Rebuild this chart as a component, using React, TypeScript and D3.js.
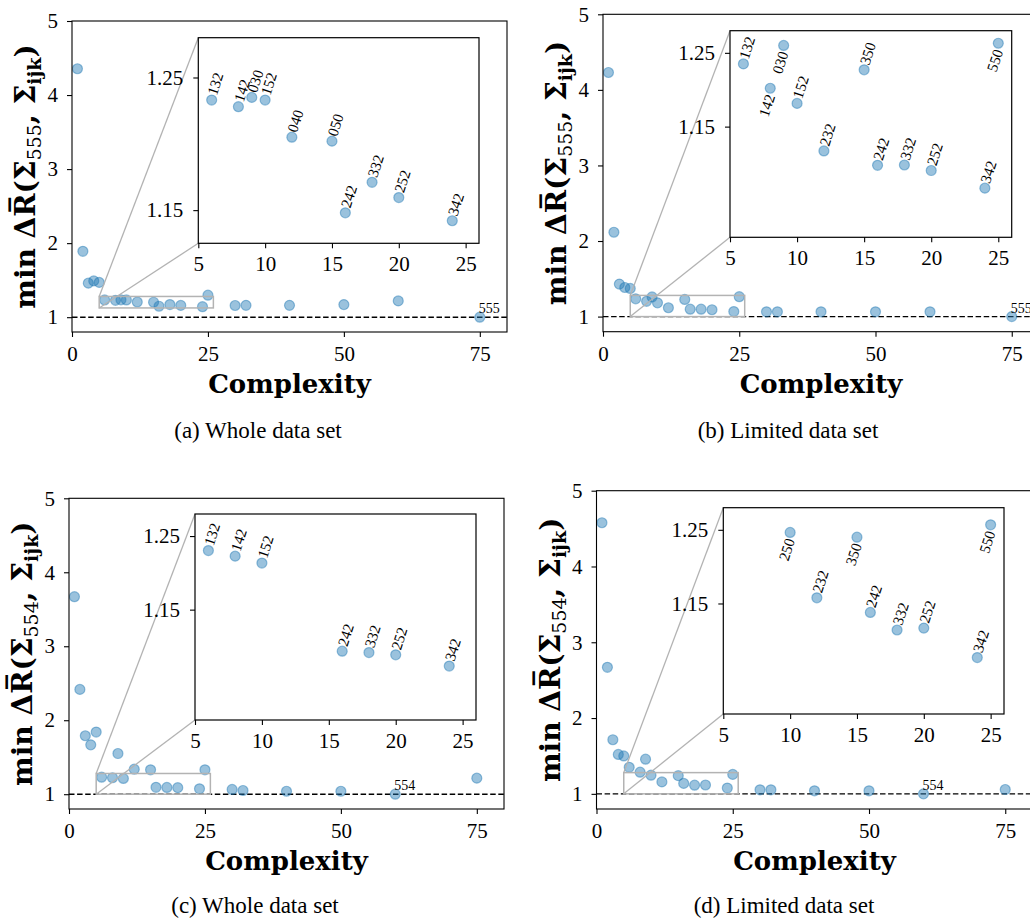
import React, { useRef, useEffect } from "react";
import * as d3 from "d3";

// complexity of each best structure (same set in every panel)
const complexity = [1, 2, 3, 4, 5, 6, 8, 9, 10, 12, 15, 16, 18, 20, 24, 25, 30, 32, 40, 50, 60, 75];

// min delta R values
const valuesA = [4.355, 1.89, 1.46, 1.49, 1.47, 1.233, 1.228, 1.235, 1.233, 1.205, 1.202, 1.148, 1.171, 1.1595, 1.142, 1.297, 1.158, 1.16, 1.16, 1.17, 1.22, 1.0];
const valuesB = [4.23, 2.116, 1.43, 1.385, 1.372, 1.235, 1.202, 1.26, 1.1815, 1.117, 1.227, 1.0976, 1.098, 1.0905, 1.0666, 1.263, 1.063, 1.063, 1.063, 1.063, 1.063, 1.0];
const valuesC = [3.67, 2.417, 1.79, 1.667, 1.84, 1.2303, 1.2227, 1.55, 1.2133, 1.338, 1.33, 1.0935, 1.0917, 1.0886, 1.0733, 1.33, 1.064, 1.05, 1.04, 1.04, 1.0, 1.217];
const valuesD = [4.577, 2.67, 1.714, 1.52, 1.5, 1.35, 1.286, 1.457, 1.2464, 1.1577, 1.24, 1.1378, 1.114, 1.1166, 1.0766, 1.2568, 1.053, 1.053, 1.04, 1.04, 1.0, 1.057];

// structure tags shown in the insets ("" = no tag)
const tagsA = ["", "", "", "", "", "132", "142", "030", "152", "040", "050", "242", "332", "252", "342", "", "", "", "", "", "", ""];
const tagsB = ["", "", "", "", "", "132", "142", "030", "152", "232", "350", "242", "332", "252", "342", "550", "", "", "", "", "", ""];
const tagsC = ["", "", "", "", "", "132", "142", "", "152", "", "", "242", "332", "252", "342", "", "", "", "", "", "", ""];
const tagsD = ["", "", "", "", "", "", "", "", "250", "232", "350", "242", "332", "252", "342", "550", "", "", "", "", "", ""];

// tags written below their point
const belowB = ["142", "030", "550"];
const belowD = ["250", "350", "550"];

const mainTicksX = [0, 25, 50, 75];
const mainTicksY = [1, 2, 3, 4, 5];
const insetTicksX = [5, 10, 15, 20, 25];
const insetTicksY = [1.15, 1.25];

const panels = [
  {
    id: "a", values: valuesA, tags: tagsA, below: [], sigma: "555", refX: 75, refTag: "555",
    insetY: [1.125, 1.28], caption: "(a)", captionText: "Whole data set",
    box: { left: 72, right: 507, top: 21, bottom: 332 },
    inset: { left: 198.3, right: 479, top: 37.7, bottom: 243.3 },
    capX: 258, capY: 438,
  },
  {
    id: "b", values: valuesB, tags: tagsB, below: belowB, sigma: "555", refX: 75, refTag: "555",
    insetY: [1.0, 1.28], caption: "(b)", captionText: "Limited data set",
    box: { left: 603, right: 1039, top: 14.3, bottom: 331.7 },
    inset: { left: 730, right: 1011.7, top: 30.7, bottom: 237.3 },
    capX: 788, capY: 438,
  },
  {
    id: "c", values: valuesC, tags: tagsC, below: [], sigma: "554", refX: 60, refTag: "554",
    insetY: [1.0, 1.28], caption: "(c)", captionText: "Whole data set",
    box: { left: 69, right: 504, top: 498.3, bottom: 809 },
    inset: { left: 195, right: 476, top: 514, bottom: 720 },
    capX: 255, capY: 913,
  },
  {
    id: "d", values: valuesD, tags: tagsD, below: belowD, sigma: "554", refX: 60, refTag: "554",
    insetY: [1.0, 1.28], caption: "(d)", captionText: "Limited data set",
    box: { left: 596.5, right: 1032.5, top: 490.7, bottom: 809 },
    inset: { left: 723.3, right: 1004, top: 507.7, bottom: 714 },
    capX: 784, capY: 913,
  },
];

const BLUE = "#1f77b4";
const TICK_FONT = "'Liberation Serif', serif";
const BOLD_FONT = "'DejaVu Serif', serif";

function styleAxis(sel, size) {
  sel.select(".domain").remove();
  sel.selectAll(".tick line").attr("stroke", "#000").attr("stroke-width", 1.1);
  sel.selectAll(".tick text")
    .attr("fill", "#000")
    .style("font-family", TICK_FONT)
    .style("font-size", `${size}px`);
}

function drawPanel(root, p) {
  const pts = complexity.map((c, i) => ({ c, v: p.values[i], tag: p.tags[i] }));
  const b = p.box;
  const x = d3.scaleLinear().domain([0, 80]).range([b.left, b.right]);
  const y = d3.scaleLinear().domain([0.8, 5]).range([b.bottom, b.top]);

  const g = root.append("g");
  const clipId = `clip-main-${p.id}`;
  g.append("clipPath").attr("id", clipId).append("rect")
    .attr("x", b.left).attr("y", b.top)
    .attr("width", b.right - b.left).attr("height", b.bottom - b.top);

  const plot = g.append("g").attr("clip-path", `url(#${clipId})`);
  plot.append("line")
    .attr("x1", x(0)).attr("x2", x(80))
    .attr("y1", y(1)).attr("y2", y(1))
    .attr("stroke", "#000").attr("stroke-width", 1.4)
    .attr("stroke-dasharray", "5.5,2.6");

  plot.selectAll("circle").data(pts).join("circle")
    .attr("cx", (d) => x(d.c)).attr("cy", (d) => y(d.v)).attr("r", 5)
    .attr("fill", BLUE).attr("fill-opacity", 0.45)
    .attr("stroke", BLUE).attr("stroke-opacity", 0.45).attr("stroke-width", 1.2);

  const ref = pts.find((d) => d.c === p.refX);
  plot.append("text")
    .attr("x", x(ref.c) - 1).attr("y", y(ref.v) - 4)
    .style("font-family", TICK_FONT).style("font-size", "14px")
    .text(p.refTag);

  // zoom marker and connectors
  const [y0, y1] = p.insetY;
  const gray = "#b3b3b3";
  g.append("rect")
    .attr("x", x(5)).attr("y", y(y1))
    .attr("width", x(26) - x(5)).attr("height", y(y0) - y(y1))
    .attr("fill", "none").attr("stroke", gray).attr("stroke-width", 1.5);
  g.append("line")
    .attr("x1", x(5)).attr("y1", y(y1)).attr("x2", p.inset.left).attr("y2", p.inset.top)
    .attr("stroke", gray).attr("stroke-width", 1.3);
  g.append("line")
    .attr("x1", x(5)).attr("y1", y(y0)).attr("x2", p.inset.left).attr("y2", p.inset.bottom)
    .attr("stroke", gray).attr("stroke-width", 1.3);

  // main frame + axes
  g.append("rect")
    .attr("x", b.left).attr("y", b.top)
    .attr("width", b.right - b.left).attr("height", b.bottom - b.top)
    .attr("fill", "none").attr("stroke", "#000").attr("stroke-width", 1.1);

  g.append("g").attr("transform", `translate(0,${b.bottom})`)
    .call(d3.axisBottom(x).tickValues(mainTicksX).tickSize(5).tickPadding(9).tickFormat(d3.format("d")))
    .call((s) => styleAxis(s, 21));
  g.append("g").attr("transform", `translate(${b.left},0)`)
    .call(d3.axisLeft(y).tickValues(mainTicksY).tickSize(5).tickPadding(9).tickFormat(d3.format("d")))
    .call((s) => styleAxis(s, 21));

  // inset
  const ins = p.inset;
  const xi = d3.scaleLinear().domain([5, 26]).range([ins.left, ins.right]);
  const yi = d3.scaleLinear().domain([y0, y1]).range([ins.bottom, ins.top]);
  const ig = g.append("g");
  ig.append("rect")
    .attr("x", ins.left).attr("y", ins.top)
    .attr("width", ins.right - ins.left).attr("height", ins.bottom - ins.top)
    .attr("fill", "#fff");
  const iclip = `clip-inset-${p.id}`;
  ig.append("clipPath").attr("id", iclip).append("rect")
    .attr("x", ins.left).attr("y", ins.top)
    .attr("width", ins.right - ins.left).attr("height", ins.bottom - ins.top);
  const inner = ig.append("g").attr("clip-path", `url(#${iclip})`);
  const shown = pts.filter((d) => d.c >= 5 && d.c <= 26 && d.v >= y0 && d.v <= y1);
  inner.selectAll("circle").data(shown).join("circle")
    .attr("cx", (d) => xi(d.c)).attr("cy", (d) => yi(d.v)).attr("r", 5)
    .attr("fill", BLUE).attr("fill-opacity", 0.45)
    .attr("stroke", BLUE).attr("stroke-opacity", 0.45).attr("stroke-width", 1.2);

  inner.selectAll("text.tag").data(shown.filter((d) => d.tag)).join("text")
    .attr("class", "tag")
    .attr("transform", (d) => {
      const below = p.below.includes(d.tag);
      const tx = xi(d.c) + 5;
      const ty = yi(d.v) + (below ? 8 : -4);
      return `translate(${tx},${ty}) rotate(-72)`;
    })
    .attr("text-anchor", (d) => (p.below.includes(d.tag) ? "end" : "start"))
    .style("font-family", TICK_FONT).style("font-size", "15px")
    .text((d) => d.tag);

  ig.append("rect")
    .attr("x", ins.left).attr("y", ins.top)
    .attr("width", ins.right - ins.left).attr("height", ins.bottom - ins.top)
    .attr("fill", "none").attr("stroke", "#000").attr("stroke-width", 1.2);
  ig.append("g").attr("transform", `translate(0,${ins.bottom})`)
    .call(d3.axisBottom(xi).tickValues(insetTicksX).tickSize(5).tickPadding(8).tickFormat(d3.format("d")))
    .call((s) => styleAxis(s, 21));
  ig.append("g").attr("transform", `translate(${ins.left},0)`)
    .call(d3.axisLeft(yi).tickValues(insetTicksY).tickSize(5).tickPadding(10).tickFormat(d3.format(".2f")))
    .call((s) => styleAxis(s, 21));

  // axis titles
  g.append("text")
    .attr("x", (b.left + b.right) / 2).attr("y", b.bottom + 61)
    .attr("text-anchor", "middle")
    .style("font-family", BOLD_FONT).style("font-weight", "bold").style("font-size", "26px")
    .text("Complexity");

  const yl = g.append("text")
    .attr("transform", `translate(${b.left - 37},${(b.top + b.bottom) / 2}) rotate(-90)`)
    .attr("text-anchor", "middle")
    .style("font-family", BOLD_FONT).style("font-weight", "bold").style("font-size", "28px");
  yl.append("tspan").text("min \u0394R\u0305(\u03a3");
  yl.append("tspan").attr("dy", 6).style("font-size", "19px").style("font-weight", "normal").text(p.sigma);
  yl.append("tspan").attr("dy", -6).text(", \u03a3");
  yl.append("tspan").attr("dy", 6).style("font-size", "19px").text("ijk");
  yl.append("tspan").attr("dy", -6).text(")");

  g.append("text")
    .attr("x", p.capX).attr("y", p.capY)
    .attr("text-anchor", "middle")
    .style("font-family", TICK_FONT).style("font-size", "23px")
    .text(`${p.caption} ${p.captionText}`);
}

const App = () => {
  const svgRef = useRef(null);

  useEffect(() => {
    const svg = d3.select(svgRef.current);
    svg.selectAll("*").remove();
    panels.forEach((p) => drawPanel(svg, p));
  }, []);

  return (
    <svg
      ref={svgRef}
      width={1030}
      height={918}
      style={{ position: "absolute", left: 0, top: 0, background: "#fff" }}
    />
  );
};

export default App;
